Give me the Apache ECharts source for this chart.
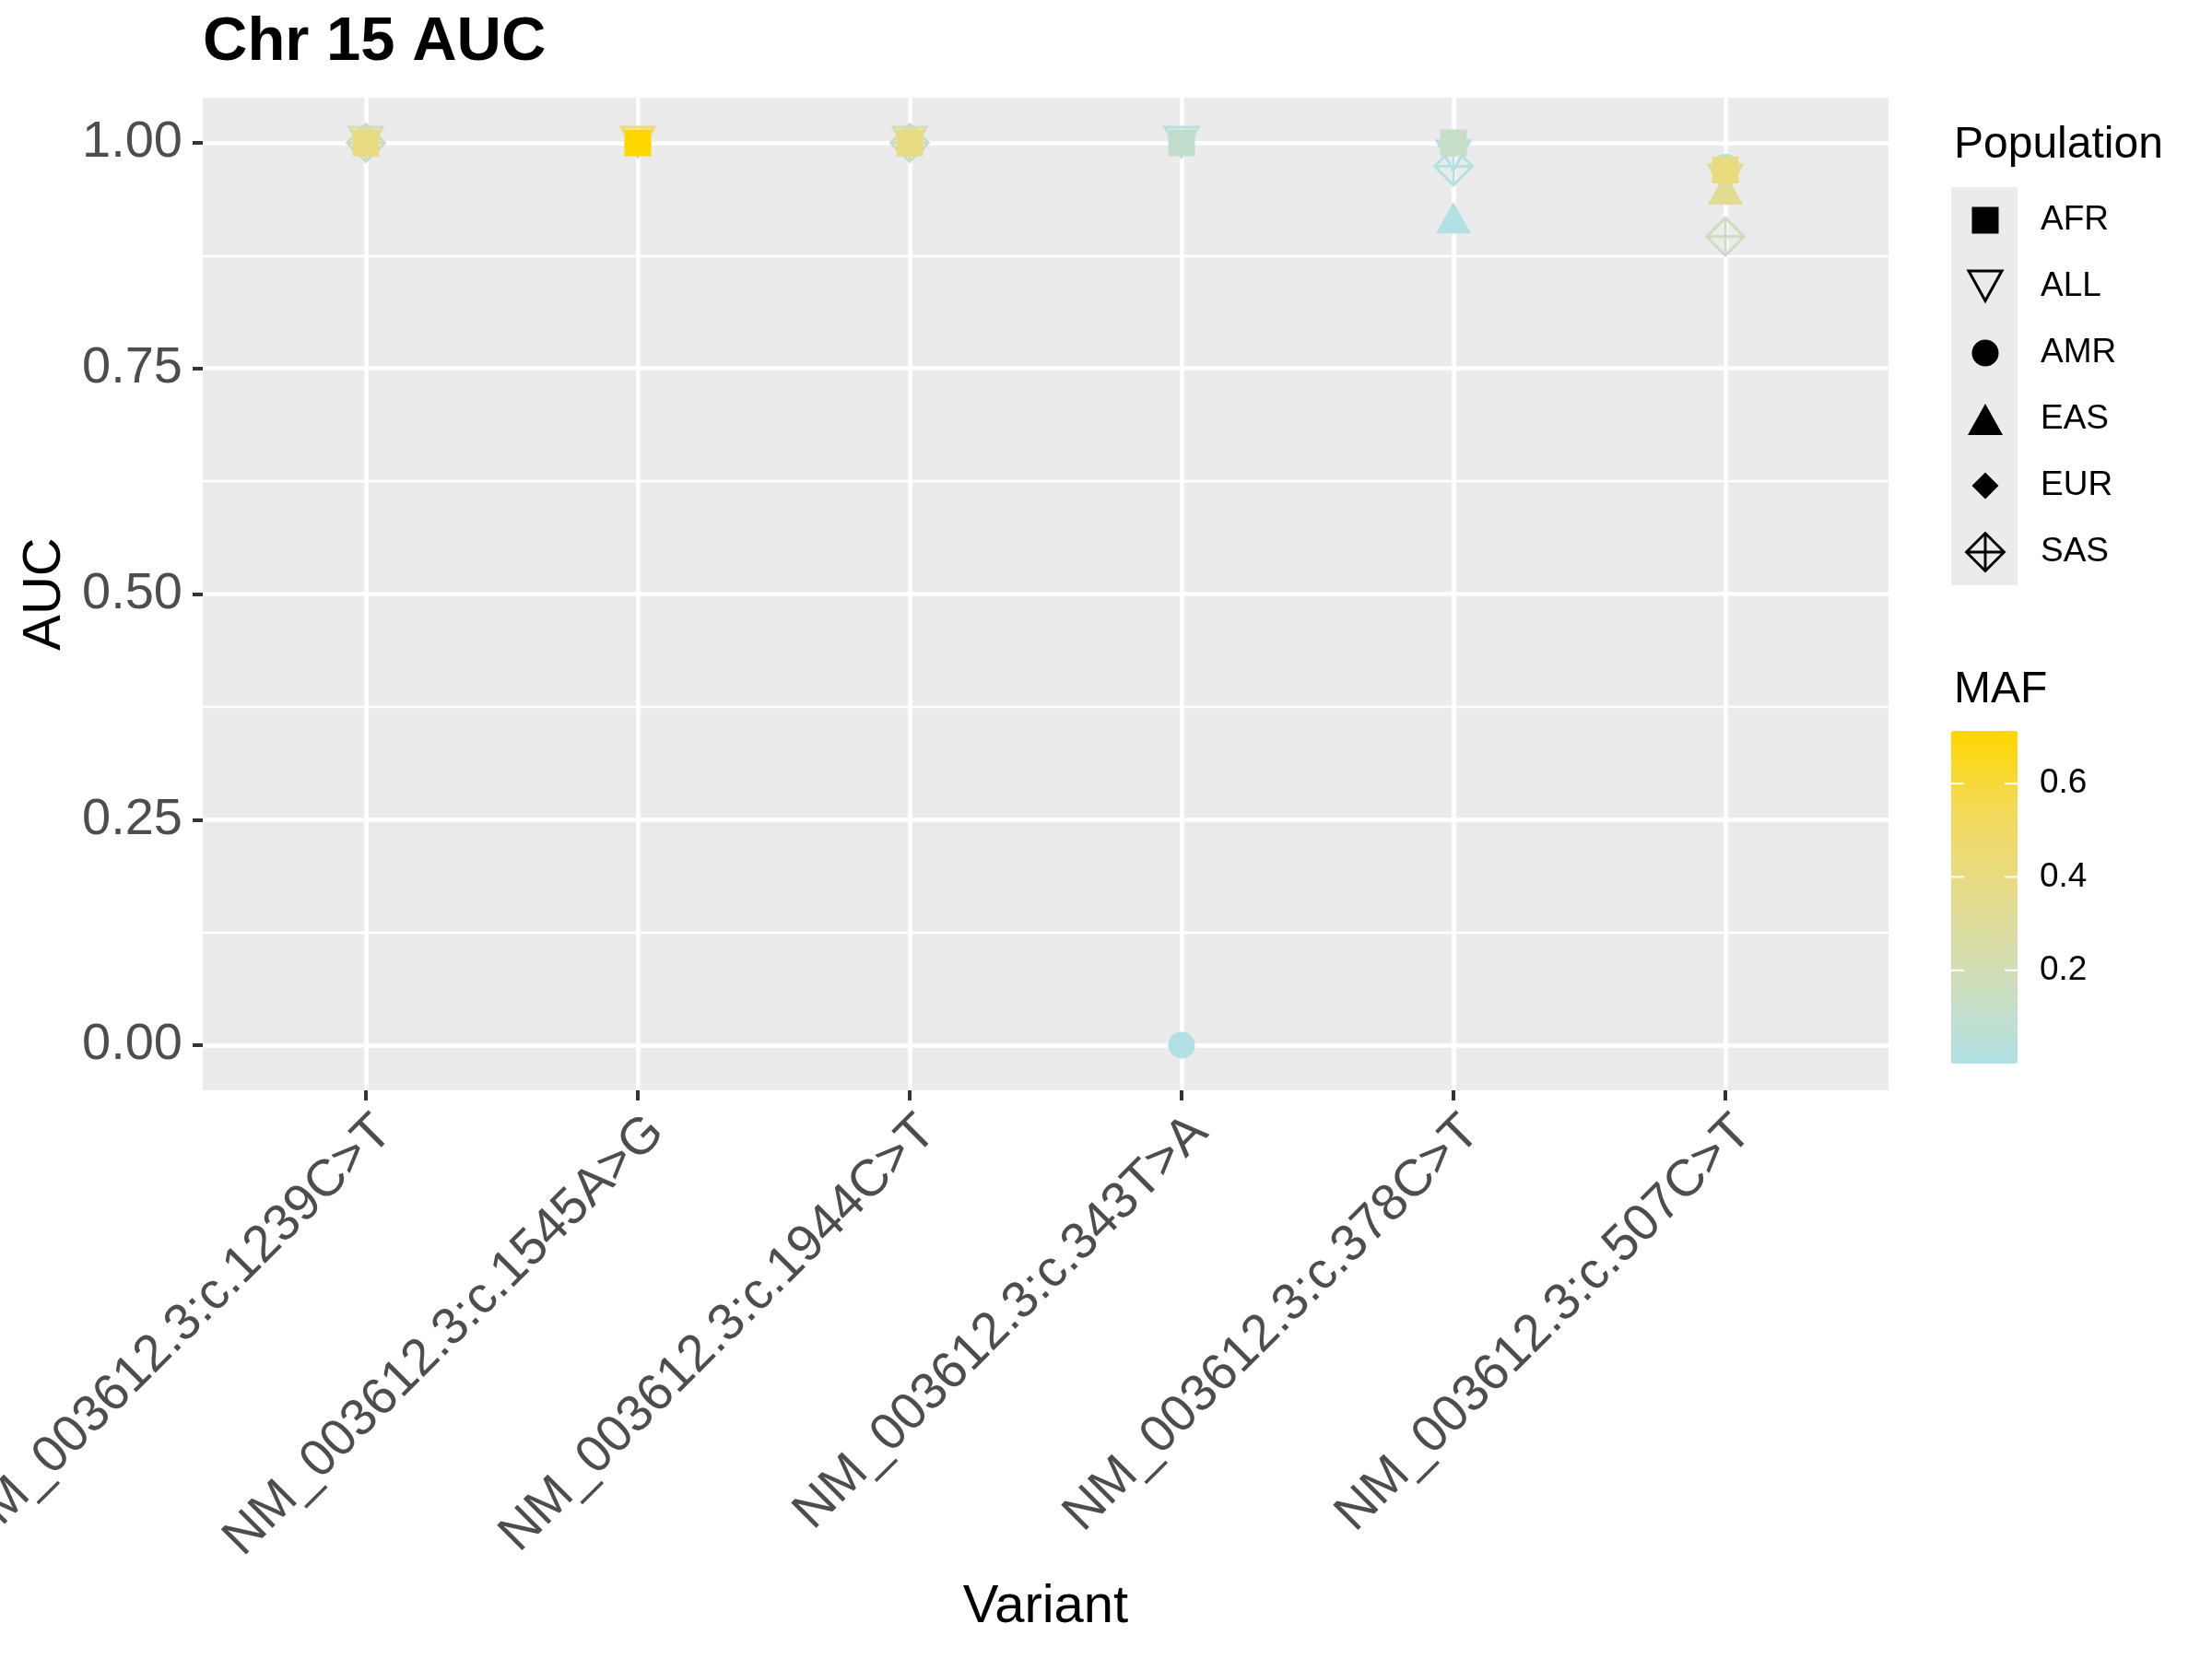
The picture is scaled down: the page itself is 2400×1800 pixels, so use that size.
<!DOCTYPE html>
<html>
<head>
<meta charset="utf-8">
<script src="https://cdn.jsdelivr.net/npm/echarts@6/dist/echarts.min.js"></script>
<style>
html, body { margin: 0; padding: 0; background: #fff; }
#main { width: 2400px; height: 1800px; }
</style>
</head>
<body>
<div id="main"></div>
<script>
var categories = [
    'NM_003612.3:c.1239C>T',
    'NM_003612.3:c.1545A>G',
    'NM_003612.3:c.1944C>T',
    'NM_003612.3:c.343T>A',
    'NM_003612.3:c.378C>T',
    'NM_003612.3:c.507C>T'
];
var populations = ['AFR', 'ALL', 'AMR', 'EAS', 'EUR', 'SAS'];

// AUC per variant, null = no point
var aucAFR = [1.000, 1.000, 1.000, 1.000, 1.000, 0.970];
var aucALL = [1.000, 1.000, 1.000, 1.000, 0.985, 0.958];
var aucAMR = [1.000, null, 1.000, 0.000, null, 0.973];
var aucEAS = [null, null, null, null, 0.917, 0.949];
var aucEUR = [1.000, null, 1.000, null, null, null];
var aucSAS = [1.000, null, 1.000, null, 0.974, 0.896];

// MAF per variant (colour)
var mafAFR = [0.40, 0.72, 0.40, 0.10, 0.12, 0.41];
var mafALL = [0.20, 0.42, 0.20, 0.03, 0.03, 0.32];
var mafAMR = [0.38, null, 0.38, 0.01, null, 0.02];
var mafEAS = [null, null, null, null, 0.01, 0.34];
var mafEUR = [0.40, null, 0.40, null, null, null];
var mafSAS = [0.15, null, 0.15, null, 0.02, 0.16];

var yTicks = [0, 0.25, 0.5, 0.75, 1];
var yMinor = [0.125, 0.375, 0.625, 0.875];
var mafTicks = [0.2, 0.4, 0.6];
var mafMin = 0, mafMax = 0.713;

var FONT = '"Liberation Sans", Arimo, Arial, sans-serif';

var auc = {AFR: aucAFR, ALL: aucALL, AMR: aucAMR, EAS: aucEAS, EUR: aucEUR, SAS: aucSAS};
var maf = {AFR: mafAFR, ALL: mafALL, AMR: mafAMR, EAS: mafEAS, EUR: mafEUR, SAS: mafSAS};

function points(p) {
    var out = [];
    for (var i = 0; i < categories.length; i++) {
        if (auc[p][i] != null) out.push([i + 1, auc[p][i], maf[p][i]]);
    }
    return out;
}

// outline shapes as filled paths with holes (0..100 box)
var downTri = [[[0, 0], [100, 0], [50, 100]], [[12.4, 8.1], [50, 83.3], [87.6, 8.1]]];
var diamondPlus = [
    [[50, 0], [100, 50], [50, 100], [0, 50]],
    [[53.25, 12.45], [53.25, 46.75], [87.55, 46.75]],
    [[46.75, 12.45], [12.45, 46.75], [46.75, 46.75]],
    [[53.25, 87.55], [87.55, 53.25], [53.25, 53.25]],
    [[46.75, 87.55], [46.75, 53.25], [12.45, 53.25]]
];
var square = [[[0, 0], [100, 0], [100, 100], [0, 100]]];
var upTri = [[[50, 0], [100, 100], [0, 100]]];
var diamond = [[[50, 0], [100, 50], [50, 100], [0, 50]]];

function pathOf(polys, w, h, box) {
    var sx = w / 100, sy = h / 100;
    var ox = box ? (box - w) / 2 : 0, oy = box ? (box - h) / 2 : 0;
    var s = box ? 'M0,0L0.01,0Z M' + box + ',' + box + 'L' + (box - 0.01) + ',' + box + 'Z ' : '';
    polys.forEach(function (poly) {
        poly.forEach(function (pt, k) {
            s += (k ? 'L' : 'M') + (ox + pt[0] * sx).toFixed(2) + ',' + (oy + pt[1] * sy).toFixed(2);
        });
        s += 'Z ';
    });
    return 'path://' + s;
}

var BOX = 48;
var symbols = {
    AFR: 'rect',
    ALL: pathOf(downTri, 100, 100, 0),
    AMR: 'circle',
    EAS: 'triangle',
    EUR: 'diamond',
    SAS: pathOf(diamondPlus, 100, 100, 0)
};
var sizes = {AFR: [29, 29], ALL: [41, 37], AMR: 29, EAS: [38, 34], EUR: [29, 29], SAS: [45, 45]};
var legendIcons = {
    AFR: pathOf(square, 29, 29, BOX),
    ALL: pathOf(downTri, 41, 37, BOX),
    AMR: 'path://M0,0L0.01,0Z M48,48L47.99,48Z M9.5,24A14.5,14.5 0 1 0 38.5,24A14.5,14.5 0 1 0 9.5,24Z',
    EAS: pathOf(upTri, 38, 34, BOX),
    EUR: pathOf(diamond, 29, 29, BOX),
    SAS: pathOf(diamondPlus, 45, 45, BOX)
};

var drawOrder = ['SAS', 'EAS', 'ALL', 'AMR', 'EUR', 'AFR'];
var series = drawOrder.map(function (p) {
    return {
        name: p,
        type: 'scatter',
        data: points(p),
        symbol: symbols[p],
        symbolSize: sizes[p],
        itemStyle: {color: '#000', opacity: 1},
        emphasis: {disabled: true}
    };
});

// colour bar geometry
var barLeft = 2117, barTop = 793, barW = 72, barH = 361;
var graphics = [{
    type: 'rect', shape: {x: 2117, y: 203, width: 72, height: 432},
    style: {fill: '#EBEBEB'}, z: 0
}];
mafTicks.forEach(function (v) {
    var y = barTop + (mafMax - v) / (mafMax - mafMin) * barH;
    graphics.push({type: 'line', shape: {x1: barLeft, y1: y, x2: barLeft + 14, y2: y}, style: {stroke: '#fff', lineWidth: 2}, z: 100});
    graphics.push({type: 'line', shape: {x1: barLeft + barW - 14, y1: y, x2: barLeft + barW, y2: y}, style: {stroke: '#fff', lineWidth: 2}, z: 100});
    graphics.push({type: 'text', x: 2213, y: y, style: {text: v.toFixed(1), fontSize: 37, fontFamily: FONT, fill: '#000', textVerticalAlign: 'middle'}, z: 100});
});

var myChart = echarts.init(document.getElementById('main'));
var option = {
    animation: false,
    backgroundColor: '#fff',
    title: [{
        text: 'Chr 15 AUC', left: 220, top: 13, padding: 0,
        textStyle: {fontFamily: FONT, fontWeight: 'bold', fontSize: 67, color: '#000'}
    }, {
        text: 'Population', left: 2120, top: 134, padding: 0,
        textStyle: {fontFamily: FONT, fontWeight: 'normal', fontSize: 48, color: '#000'}
    }, {
        text: 'MAF', left: 2120, top: 725, padding: 0,
        textStyle: {fontFamily: FONT, fontWeight: 'normal', fontSize: 48, color: '#000'}
    }],
    grid: {
        left: 220, top: 106, width: 1829, height: 1077,
        containLabel: false, outerBoundsMode: 'none',
        show: true, backgroundColor: '#EBEBEB', borderWidth: 0
    },
    legend: {
        orient: 'vertical',
        left: 2130, top: 215, padding: 0,
        itemWidth: 110, itemHeight: BOX, itemGap: 24,
        selectedMode: false,
        textStyle: {fontFamily: FONT, fontSize: 37, color: '#000'},
        data: populations.map(function (p) {
            return {name: p, icon: legendIcons[p], itemStyle: {color: '#000', borderWidth: 0}};
        })
    },
    visualMap: {
        type: 'continuous',
        min: mafMin, max: mafMax,
        dimension: 2,
        seriesIndex: series.map(function (s, i) { return i; }),
        calculable: false,
        hoverLink: false,
        left: barLeft, top: barTop, padding: 0,
        itemWidth: barW, itemHeight: barH,
        inRange: {color: ['#B0E0E6', '#CFDDBA', '#E4DB8D', '#F3D95B', '#FFD700']}
    },
    xAxis: {
        type: 'value', min: 0.4, max: 6.6,
        axisLine: {show: false, onZero: false},
        axisTick: {show: true, customValues: [1, 2, 3, 4, 5, 6], length: 11, lineStyle: {color: '#333333', width: 4}},
        axisLabel: {
            customValues: [1, 2, 3, 4, 5, 6],
            formatter: function (v) { return categories[Math.round(v) - 1] || ''; },
            rotate: 45, align: 'right', verticalAlign: 'top', margin: 17,
            fontFamily: FONT, fontSize: 56, color: '#4D4D4D'
        },
        splitLine: {show: true, lineStyle: {color: '#fff', width: 4.5}},
        name: 'Variant', nameLocation: 'middle', nameGap: 532,
        nameTextStyle: {fontFamily: FONT, fontSize: 58, color: '#000'}
    },
    yAxis: [{
        type: 'value', min: -0.05, max: 1.05,
        axisLine: {show: false, onZero: false},
        axisTick: {show: true, customValues: yTicks, length: 11, lineStyle: {color: '#333333', width: 4}},
        axisLabel: {
            customValues: yTicks,
            formatter: function (v) { return v.toFixed(2); },
            margin: 22, fontFamily: FONT, fontSize: 56, color: '#4D4D4D'
        },
        splitLine: {show: true, lineStyle: {color: '#fff', width: 4.5}},
        name: 'AUC', nameLocation: 'middle', nameRotate: 90, nameGap: 139,
        nameTextStyle: {fontFamily: FONT, fontSize: 58, color: '#000'}
    }, {
        type: 'value', min: -0.05, max: 1.05, position: 'right',
        axisLine: {show: false, onZero: false},
        axisTick: {show: false, customValues: yMinor},
        axisLabel: {show: false, customValues: yMinor},
        splitLine: {show: true, lineStyle: {color: '#fff', width: 2.3}}
    }],
    graphic: graphics,
    series: series
};
myChart.setOption(option);
</script>
</body>
</html>
